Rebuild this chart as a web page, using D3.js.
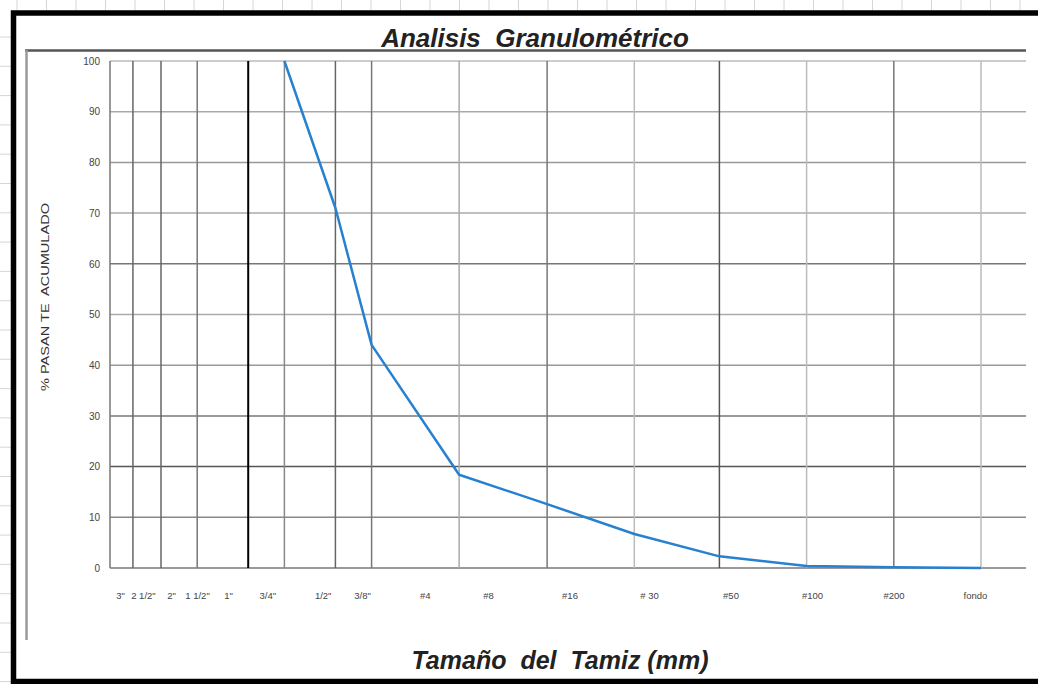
<!DOCTYPE html>
<html>
<head>
<meta charset="utf-8">
<script src="https://cdn.jsdelivr.net/npm/d3@7"></script>
<style>
  html, body { margin: 0; padding: 0; background: #fff; }
  svg { display: block; }
  text { font-family: "Liberation Sans", Arial, sans-serif; }
</style>
</head>
<body>
<svg id="chart" width="1038" height="684"></svg>
<script>
// ---- data ----
const sieveLabels = ['3"', '2 1/2"', '2"', '1 1/2"', '1"', '3/4"', '1/2"', '3/8"', '#4', '#8', '#16', '# 30', '#50', '#100', '#200', 'fondo'];
const sieveSizesMM = [76.2, 63.5, 50.8, 38.1, 25.4, 19.05, 12.7, 9.525, 4.75, 2.36, 1.18, 0.6, 0.3, 0.15, 0.075];
const testSieves = ['3/4"', '1/2"', '3/8"', '#4', '#8', '#16', '# 30', '#50', '#100', '#200'];
const passingPct = [100, 71, 44, 18.4, 12.6, 6.7, 2.3, 0.4, 0.15, 0];
const yTicks = [0, 10, 20, 30, 40, 50, 60, 70, 80, 90, 100];
const chartTitle = 'Analisis  Granulométrico';
const xTitle = 'Tamaño  del  Tamiz (mm)';
const yTitle = '% PASAN TE  ACUMULADO';

// ---- styles (not data) ----
const vTone = {
  '3"': '#777', '2 1/2"': '#666', '2"': '#666', '1 1/2"': '#777', '1"': '#000',
  '3/4"': '#888', '1/2"': '#666', '3/8"': '#777', '#4': '#aaa', '#8': '#777',
  '#16': '#bbb', '# 30': '#555', '#50': '#bbb', '#100': '#777', '#200': '#bbb'
};
const hTone = {0: '#777', 10: '#888', 20: '#555', 30: '#777', 40: '#999', 50: '#aaa',
  60: '#777', 70: '#aaa', 80: '#999', 90: '#aaa', 100: '#bbb'};

const svg = d3.select('#chart');
const W = 1038, H = 684;

svg.append('rect').attr('width', W).attr('height', H).attr('fill', '#fff');

// spreadsheet cell lines behind the frame
const bg = svg.append('g').attr('stroke', '#d6d6d6').attr('stroke-width', 1);
bg.selectAll('line.col').data(d3.range(17, W, 29.5)).join('line')
  .attr('x1', d => d).attr('x2', d => d).attr('y1', 0).attr('y2', 11);
bg.selectAll('line.row').data(d3.range(37, H, 29.3)).join('line')
  .attr('x1', 0).attr('x2', 11).attr('y1', d => d).attr('y2', d => d);

// black frame
svg.append('rect')
  .attr('x', 13.5).attr('y', 13).attr('width', W + 20).attr('height', 668.5)
  .attr('fill', '#fff').attr('stroke', '#000').attr('stroke-width', 5.5);

// chart area partial border
svg.append('line').attr('x1', 25).attr('x2', 1026).attr('y1', 50.5).attr('y2', 50.5)
  .attr('stroke', '#555').attr('stroke-width', 2.5);
svg.append('line').attr('x1', 26.5).attr('x2', 26.5).attr('y1', 50).attr('y2', 640)
  .attr('stroke', '#999').attr('stroke-width', 2.5);

// ---- scales ----
const plotLeft = 110, plotRight = 1026, plotTop = 61, plotBottom = 568;
const x = d3.scaleLog().domain([sieveSizesMM[0], sieveSizesMM[sieveSizesMM.length - 1]]).range([plotLeft, 981]);
const y = d3.scaleLinear().domain([0, 100]).range([plotBottom, plotTop]);
const sizeOf = Object.fromEntries(sieveLabels.slice(0, sieveSizesMM.length).map((l, i) => [l, sieveSizesMM[i]]));
const labelSizes = sieveSizesMM.concat([sieveSizesMM[sieveSizesMM.length - 1] / 2]);
// label band (piecewise log scale, labels sit slightly offset from the sieve lines)
const xLabel = d3.scaleLog()
  .domain([labelSizes[0], sizeOf['2"'], sizeOf['1 1/2"'], sizeOf['1"'], sizeOf['3/8"'], sizeOf['#8'], labelSizes[labelSizes.length - 1]])
  .range([120, 171, 197, 228, 362, 488, 975]);

// horizontal gridlines
svg.append('g').selectAll('line').data(yTicks).join('line')
  .attr('x1', plotLeft).attr('x2', plotRight)
  .attr('y1', d => y(d)).attr('y2', d => y(d))
  .attr('stroke', d => hTone[d]).attr('stroke-width', 1.5);

// vertical gridlines at sieve sizes
svg.append('g').selectAll('line').data(sieveLabels.slice(0, sieveSizesMM.length)).join('line')
  .attr('x1', d => x(sizeOf[d])).attr('x2', d => x(sizeOf[d]))
  .attr('y1', plotTop).attr('y2', plotBottom)
  .attr('stroke', d => vTone[d]).attr('stroke-width', d => d === '1"' ? 2 : 1.5);

// y axis tick labels
const yAxis = d3.axisLeft(y).tickValues(yTicks).tickSize(0).tickPadding(10);
const gy = svg.append('g').attr('transform', `translate(${plotLeft},0)`).call(yAxis);
gy.select('.domain').remove();
gy.selectAll('text').attr('font-family', '"Liberation Sans", Arial, sans-serif')
  .attr('font-size', 10).attr('fill', '#444');

// x labels
const xAxis = d3.axisBottom(xLabel).tickValues(labelSizes).tickSize(0).tickPadding(0)
  .tickFormat((d, i) => sieveLabels[i]);
const gx = svg.append('g').attr('transform', `translate(0,${plotBottom + 24})`).call(xAxis);
gx.select('.domain').remove();
gx.selectAll('text').attr('font-family', '"Liberation Sans", Arial, sans-serif')
  .attr('font-size', 9.5).attr('fill', '#444').style('white-space', 'pre');

// curve
const pts = testSieves.map((s, i) => [x(sizeOf[s]), y(passingPct[i])]);
svg.append('path').attr('d', d3.line()(pts))
  .attr('fill', 'none').attr('stroke', '#2781d0').attr('stroke-width', 2.5)
  .attr('stroke-linejoin', 'round');

// titles
svg.append('text').attr('x', 535).attr('y', 47).attr('text-anchor', 'middle')
  .attr('font-size', 26).attr('font-weight', 'bold').attr('font-style', 'italic')
  .attr('fill', '#222').style('white-space', 'pre').text(chartTitle);
svg.append('text').attr('x', 560).attr('y', 669).attr('text-anchor', 'middle')
  .attr('font-size', 26).attr('font-weight', 'bold').attr('font-style', 'italic')
  .attr('textLength', 297).attr('lengthAdjust', 'spacingAndGlyphs')
  .attr('fill', '#222').style('white-space', 'pre').text(xTitle);
svg.append('text').attr('transform', 'translate(49,297) rotate(-90)')
  .attr('text-anchor', 'middle').attr('font-size', 11).attr('fill', '#333')
  .attr('textLength', 188).attr('lengthAdjust', 'spacingAndGlyphs')
  .style('white-space', 'pre').text(yTitle);
</script>
</body>
</html>
